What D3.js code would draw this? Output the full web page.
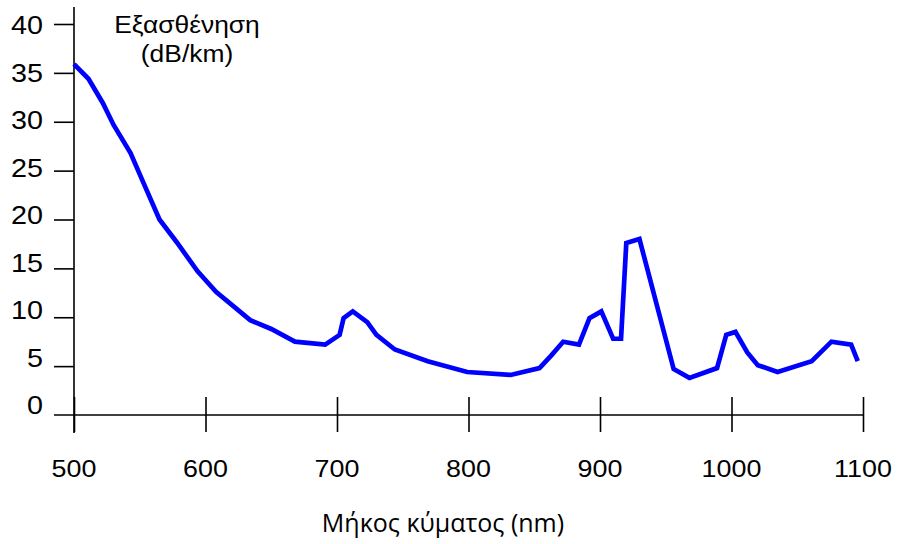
<!DOCTYPE html>
<html>
<head>
<meta charset="utf-8">
<script src="https://cdn.jsdelivr.net/npm/d3@7"></script>
<style>
  body { margin: 0; background: #fff; }
  svg { display: block; }
  .axis text { font-family: "Liberation Sans", Arial, sans-serif; }
</style>
</head>
<body>
<script>
// wavelength (nm)
var wavelength = [500, 511, 522, 530, 543, 553, 565, 578, 594, 608, 634, 650, 668, 691, 702, 705, 712, 723, 730, 744, 769, 799, 832, 854, 863, 872, 884, 892, 901, 910, 916, 920, 930, 956, 968, 989, 996, 1003, 1012, 1020, 1035, 1061, 1076, 1091, 1096];
// attenuation (dB/km)
var attenuation = [35.9, 34.4, 31.9, 29.7, 26.8, 23.7, 20.0, 17.7, 14.7, 12.6, 9.7, 8.8, 7.5, 7.2, 8.2, 9.9, 10.6, 9.5, 8.2, 6.7, 5.5, 4.4, 4.1, 4.8, 6.1, 7.5, 7.2, 9.9, 10.6, 7.8, 7.8, 17.6, 18.0, 4.7, 3.8, 4.8, 8.2, 8.5, 6.4, 5.1, 4.4, 5.5, 7.5, 7.2, 5.5];

var xTicks = [500, 600, 700, 800, 900, 1000, 1100];
var yTicks = [0, 5, 10, 15, 20, 25, 30, 35, 40];

var width = 922, height = 544;

// x scale: 500 -> 74px, 1100 -> 863px
var x = d3.scaleLinear().domain([500, 1100]).range([74, 863]);
// y scale: 0 -> 415px, 40 -> 24px
var y = d3.scaleLinear().domain([0, 40]).range([415, 24]);
// tick labels sit on a slightly tighter spacing than the ticks
var yLab = d3.scaleLinear().domain([0, 40]).range([405, 25]);

var svg = d3.select("body")
    .append("svg")
    .attr("width", width)
    .attr("height", height);

// x axis
var gx = svg.append("g")
    .attr("class", "axis")
    .attr("transform", "translate(0," + y(0) + ")")
    .call(d3.axisBottom(x).tickValues(xTicks).tickSize(17).tickSizeOuter(0).tickFormat(""));
gx.select(".domain").remove();
gx.selectAll(".tick line")
    .attr("y1", -18)
    .attr("stroke", "#000")
    .attr("stroke-width", 1.6);
gx.append("line")
    .attr("x1", x(500) - 20)
    .attr("x2", x(1100))
    .attr("stroke", "#000")
    .attr("stroke-width", 1.6);

// x tick labels
svg.append("g")
    .selectAll("text")
    .data(xTicks)
    .enter()
    .append("text")
    .attr("transform", function(d) { return "translate(" + x(d) + ",477) scale(1.12,1)"; })
    .attr("text-anchor", "middle")
    .attr("font-family", "Liberation Sans, Arial, sans-serif")
    .attr("font-size", 24)
    .attr("fill", "#000")
    .text(function(d) { return d; });

// y axis
var gy = svg.append("g")
    .attr("class", "axis")
    .attr("transform", "translate(" + x(500) + ",0)")
    .call(d3.axisLeft(y).tickValues(yTicks.slice(1)).tickSize(20).tickSizeOuter(0).tickFormat(""));
gy.select(".domain").remove();
gy.selectAll(".tick line")
    .attr("stroke", "#000")
    .attr("stroke-width", 1.6);
gy.append("line")
    .attr("y1", y(40) - 17)
    .attr("y2", y(0) + 18)
    .attr("stroke", "#000")
    .attr("stroke-width", 1.6);

// y tick labels
svg.append("g")
    .selectAll("text")
    .data(yTicks)
    .enter()
    .append("text")
    .attr("transform", function(d) { return "translate(43," + (yLab(d) + 9) + ") scale(1.15,1)"; })
    .attr("text-anchor", "end")
    .attr("font-family", "Liberation Sans, Arial, sans-serif")
    .attr("font-size", 25)
    .attr("fill", "#000")
    .text(function(d) { return d; });

// y axis title
svg.append("text")
    .attr("transform", "translate(187,33) scale(1.1,1)")
    .attr("text-anchor", "middle")
    .attr("font-family", "Liberation Sans, Arial, sans-serif")
    .attr("font-size", 24)
    .text("Εξασθένηση");
svg.append("text")
    .attr("transform", "translate(187,62) scale(1.1,1)")
    .attr("text-anchor", "middle")
    .attr("font-family", "Liberation Sans, Arial, sans-serif")
    .attr("font-size", 24)
    .text("(dB/km)");

// x axis title
svg.append("text")
    .attr("x", 443)
    .attr("y", 532)
    .attr("text-anchor", "middle")
    .attr("font-family", "Open Sans, Noto Sans, sans-serif")
    .attr("font-size", 25)
    .text("Μήκος κύματος (nm)");

// attenuation curve
var line = d3.line()
    .x(function(d, i) { return x(wavelength[i]); })
    .y(function(d) { return y(d); });

svg.append("path")
    .datum(attenuation)
    .attr("fill", "none")
    .attr("stroke", "#0000ff")
    .attr("stroke-width", 4.7)
    .attr("d", line);
</script>
</body>
</html>
